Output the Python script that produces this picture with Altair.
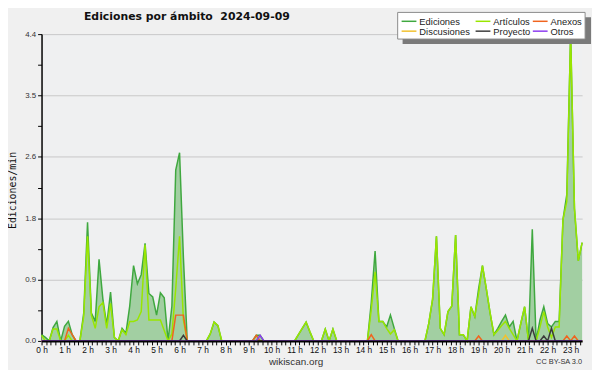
import altair as alt
import pandas as pd

titulo = "Ediciones por ámbito\u00a0 2024-09-09"
eje_y_titulo = "Ediciones/min"
pie_sitio = "wikiscan.org"
pie_licencia = "CC BY-SA 3.0"

series_nombres = ["Ediciones", "Artículos", "Anexos", "Discusiones", "Proyecto", "Otros"]
series_colores = ["#3fa83f", "#99e600", "#f0641e", "#f2c12e", "#3c3c3c", "#8c3cf0"]

minutos_paso = 10

# one row per hour, 10-minute bins (00:00 ... 23:30)
ediciones = [
    0.09, 0.05, 0.00, 0.19, 0.28, 0.00,
    0.21, 0.28, 0.09, 0.00, 0.00, 0.40,
    1.70, 0.40, 0.28, 1.17, 0.60, 0.23,
    0.70, 0.05, 0.00, 0.18, 0.11, 0.50,
    1.08, 0.82, 0.95, 1.40, 0.68, 0.63,
    0.37, 0.69, 0.62, 0.00, 0.50, 2.45,
    2.70, 1.20, 0.00, 0.00, 0.00, 0.00,
    0.00, 0.00, 0.10, 0.27, 0.22, 0.00,
    0.00, 0.00, 0.00, 0.00, 0.00, 0.00,
    0.00, 0.00, 0.08, 0.08, 0.00, 0.00,
    0.00, 0.00, 0.00, 0.00, 0.00, 0.00,
    0.00, 0.09, 0.18, 0.27, 0.13, 0.00,
    0.00, 0.00, 0.17, 0.00, 0.17, 0.00,
    0.00, 0.00, 0.00, 0.00, 0.00, 0.00,
    0.00, 0.00, 0.55, 1.29, 0.28, 0.28,
    0.20, 0.37, 0.18, 0.00, 0.00, 0.00,
    0.00, 0.00, 0.00, 0.00, 0.00, 0.25,
    0.60, 1.50, 0.18, 0.09, 0.42, 0.50,
    1.52, 0.09, 0.09, 0.00, 0.49, 0.35,
    0.75, 1.08, 0.75, 0.40, 0.09, 0.18,
    0.28, 0.37, 0.20, 0.28, 0.00, 0.25,
    0.49, 0.00, 1.60, 0.00, 0.30, 0.49,
    0.25, 0.20, 0.28, 0.28, 1.74, 2.10,
    4.40, 1.90, 1.15, 1.41,
]

articulos = [
    0.08, 0.00, 0.00, 0.17, 0.17, 0.00,
    0.00, 0.08, 0.00, 0.00, 0.00, 0.35,
    1.50, 0.37, 0.18, 0.49, 0.55, 0.18,
    0.54, 0.05, 0.00, 0.16, 0.09, 0.28,
    0.28, 0.30, 0.42, 1.38, 0.30, 0.30,
    0.30, 0.30, 0.15, 0.00, 0.10, 0.75,
    1.50, 0.30, 0.00, 0.00, 0.00, 0.00,
    0.00, 0.00, 0.10, 0.27, 0.22, 0.00,
    0.00, 0.00, 0.00, 0.00, 0.00, 0.00,
    0.00, 0.00, 0.00, 0.00, 0.00, 0.00,
    0.00, 0.00, 0.00, 0.00, 0.00, 0.00,
    0.00, 0.09, 0.18, 0.27, 0.13, 0.00,
    0.00, 0.00, 0.17, 0.00, 0.17, 0.00,
    0.00, 0.00, 0.00, 0.00, 0.00, 0.00,
    0.00, 0.00, 0.45, 0.99, 0.28, 0.28,
    0.18, 0.10, 0.16, 0.00, 0.00, 0.00,
    0.00, 0.00, 0.00, 0.00, 0.00, 0.25,
    0.60, 1.50, 0.18, 0.09, 0.42, 0.50,
    1.52, 0.09, 0.09, 0.00, 0.49, 0.35,
    0.68, 1.08, 0.75, 0.40, 0.09, 0.15,
    0.22, 0.28, 0.18, 0.09, 0.00, 0.25,
    0.49, 0.00, 0.00, 0.00, 0.20, 0.42,
    0.20, 0.05, 0.20, 0.20, 1.74, 2.00,
    4.40, 1.90, 1.15, 1.41,
]

# sparse series: only the non-zero bins
anexos = {"01:10": 0.18, "01:20": 0.09, "05:50": 0.37, "06:00": 0.37, "06:10": 0.37,
          "09:20": 0.08, "14:20": 0.09, "19:00": 0.07, "22:50": 0.07, "23:10": 0.07}
discusiones = {"20:10": 0.08}
proyecto = {"06:10": 0.08, "21:20": 0.18, "21:50": 0.07, "22:10": 0.18}
otros = {"09:30": 0.08}

n = len(ediciones)


def desde_picos(picos):
    vals = [0.0] * n
    for hhmm, v in picos.items():
        h, m = hhmm.split(":")
        vals[(int(h) * 60 + int(m)) // minutos_paso] = v
    return vals


valores = {
    "Ediciones": ediciones,
    "Artículos": articulos,
    "Anexos": desde_picos(anexos),
    "Discusiones": desde_picos(discusiones),
    "Proyecto": desde_picos(proyecto),
    "Otros": desde_picos(otros),
}
horas = [i * minutos_paso / 60 for i in range(n)]

filas = []
for nombre in series_nombres:
    for h, v in zip(horas, valores[nombre]):
        filas.append({"hora": h, "serie": nombre, "valor": v})
df = pd.DataFrame(filas)

x_ticks = [round(k * 0.2, 2) for k in range(118)]
y_ticks = [round(k * 0.44, 2) for k in range(11)]

x_enc = alt.X(
    "hora:Q",
    scale=alt.Scale(domain=[0, 23.5], nice=False, zero=False),
    axis=alt.Axis(
        values=x_ticks,
        labelExpr="abs(datum.value - round(datum.value)) < 0.01 ? round(datum.value) + ' h' : ''",
        title=None, grid=False,
        domainColor="#000000", domainWidth=2,
        tickColor="#000000", tickSize=4, tickWidth=1,
        labelFont="Liberation Sans", labelFontSize=8.5, labelColor="#111111",
        labelPadding=1, labelOverlap=False, labelFlush=False, zindex=1,
    ),
)
y_enc = alt.Y(
    "valor:Q",
    scale=alt.Scale(domain=[0, 4.4], nice=False),
    axis=alt.Axis(
        values=y_ticks,
        labelExpr="abs(datum.value / 0.88 - round(datum.value / 0.88)) < 0.01 ? format(datum.value, '.1f') : ''",
        title=eje_y_titulo, titleFont="DejaVu Sans Mono", titleFontSize=10,
        titleFontWeight="normal", titleColor="#111111",
        titleX=-29, titleY=158, titleAngle=270, titleAlign="center", titleBaseline="middle",
        gridColor="#c8c8c8", gridWidth=1,
        gridOpacity={"condition": {"test": "abs(datum.value / 0.88 - round(datum.value / 0.88)) < 0.01 && datum.value > 0", "value": 1}, "value": 0},
        domainColor="#000000", domainWidth=1.5,
        tickColor="#000000", tickSize=4, tickWidth=1,
        labelFont="Liberation Sans", labelFontSize=8, labelColor="#333333",
        labelPadding=2, zindex=0,
    ),
)
color_enc = alt.Color(
    "serie:N",
    scale=alt.Scale(domain=series_nombres, range=series_colores),
    legend=None,
)

area = (
    alt.Chart(df)
    .transform_filter(alt.datum.serie == "Ediciones")
    .mark_area(color="#a2cfa2", opacity=1)
    .encode(x=x_enc, y=y_enc)
)
lineas = [
    alt.Chart(df)
    .transform_filter(alt.datum.serie == nombre)
    .mark_line(strokeWidth=1.5)
    .encode(x=x_enc, y=y_enc, color=color_enc)
    for nombre in series_nombres
]

# legend box (three columns, two rows), drawn as plain marks
uno = pd.DataFrame({"k": [0]})
leyenda_col_x = [365, 440, 498]
leyenda_fila_y = [-13, -3]
sombra = alt.Chart(uno).mark_rect(color="#7a7a7a").encode(
    x=alt.value(366), x2=alt.value(557), y=alt.value(-17), y2=alt.value(10)
)
caja = alt.Chart(uno).mark_rect(fill="#ffffff", stroke="#8a8a8a", strokeWidth=1).encode(
    x=alt.value(361), x2=alt.value(551), y=alt.value(-22), y2=alt.value(5)
)
leyenda = []
for k, (nombre, color) in enumerate(zip(series_nombres, series_colores)):
    lx = leyenda_col_x[k % 3]
    ly = leyenda_fila_y[k // 3]
    leyenda.append(
        alt.Chart(uno).mark_rule(color=color, strokeWidth=1.5).encode(
            x=alt.value(lx), x2=alt.value(lx + 15), y=alt.value(ly)
        )
    )
    leyenda.append(
        alt.Chart(uno).mark_text(
            align="left", baseline="middle", font="Liberation Sans", fontSize=9.5, color="#222222"
        ).encode(text=alt.value(nombre), x=alt.value(lx + 18), y=alt.value(ly + 0.5))
    )

titulo_txt = alt.Chart(pd.DataFrame({"t": [titulo]})).mark_text(
    align="left", baseline="middle", font="DejaVu Sans", fontSize=11,
    fontWeight="bold", color="#111111"
).encode(text="t:N", x=alt.value(43), y=alt.value(-17))
pie1 = alt.Chart(pd.DataFrame({"t": [pie_sitio]})).mark_text(
    align="center", baseline="middle", font="Liberation Sans", fontSize=10, color="#333333"
).encode(text="t:N", x=alt.value(258), y=alt.value(332))
pie2 = alt.Chart(pd.DataFrame({"t": [pie_licencia]})).mark_text(
    align="right", baseline="middle", font="Liberation Sans", fontSize=7.5, color="#333333"
).encode(text="t:N", x=alt.value(548), y=alt.value(332))

chart = (
    alt.layer(area, *lineas, sombra, caja, *leyenda, titulo_txt, pie1, pie2)
    .properties(
        width=548, height=311,
        autosize=alt.AutoSizeParams(type="none"),
        padding={"left": 34, "top": 24, "right": 10, "bottom": 27},
        background="#f0f0f0",
    )
    .configure_view(fill="#eff0f1", strokeWidth=0)
)

chart.save("out.html", embed_options={"renderer": "svg", "actions": False})
